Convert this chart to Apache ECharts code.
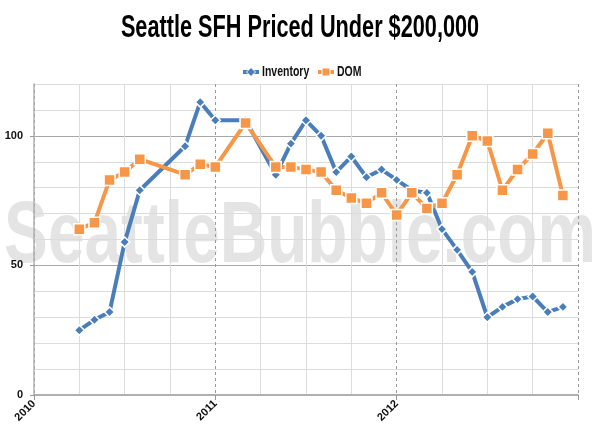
<!DOCTYPE html>
<html>
<head>
<meta charset="utf-8">
<script src="https://cdn.jsdelivr.net/npm/echarts@6/dist/echarts.min.js"></script>
<style>html,body{margin:0;padding:0;background:#fff}#c{width:600px;height:436px}</style>
</head>
<body>
<div id="c"></div>
<script>
var FONT = '"Liberation Sans",Arial,sans-serif';
var titleText = 'Seattle SFH Priced Under $200,000';
var watermarkText = 'SeattleBubble.com';
var seriesNames = ['Inventory','DOM'];
var dates = ['2010-04','2010-05','2010-06','2010-07','2010-08','2010-11','2010-12','2011-01','2011-03','2011-05','2011-06','2011-07','2011-08','2011-09','2011-10','2011-11','2011-12','2012-01','2012-02','2012-03','2012-04','2012-05','2012-06','2012-07','2012-08','2012-09','2012-10','2012-11','2012-12'];
var inventory = [25,29,32,59,79,96,113,106,106,85,97,106,100,86,92,84,87,83,79,78,64,56,47.5,30,34,37,38,32,34];
var dom = [64,66.5,83,86,91,85,89,88,105,88,88,87,86,79,76,74,78,69.5,78,72,74,85,100,98,79,87,93,101,77];
var yearLabels = ['2010','2011','2012'];
var yTicks = [0,50,100];
var BLUE = '#4a7ebb', ORANGE = '#f79646';

function monthIndex(d){var p=d.split('-');return (parseInt(p[0],10)-2010)*12+parseInt(p[1],10)-1;}
var invData = dates.map(function(d,i){return [monthIndex(d), inventory[i]];});
var domData = dates.map(function(d,i){return [monthIndex(d), dom[i]];});

function legendItem(x, color, symbol, name){
  var items = [
    {type:'line',shape:{x1:x,y1:72,x2:x+16,y2:72},style:{stroke:color,lineWidth:4}},
  ];
  if(symbol==='diamond'){
    items.push({type:'polygon',shape:{points:[[x+8,67.5],[x+12.5,72],[x+8,76.5],[x+3.5,72]]},style:{fill:color,stroke:'#fff',lineWidth:1}});
  } else {
    items.push({type:'rect',shape:{x:x+4,y:68,width:8,height:8},style:{fill:color,stroke:'#fff',lineWidth:1}});
  }
  items.push({type:'text',x:x+19,y:72,scaleX:0.7,style:{text:name,font:'bold 15px '+FONT,fill:'#111',textAlign:'left',textVerticalAlign:'middle'}});
  return items;
}

var graphics = [
  {type:'text',x:300,y:28,scaleX:0.7,z:10,style:{text:titleText,font:'bold 31px '+FONT,fill:'#000',textAlign:'center',textVerticalAlign:'middle'}},
  {type:'text',x:300,y:238,scaleX:0.747,z:-10,silent:true,style:{text:watermarkText,font:'bold 88px '+FONT,fill:'#e4e4e4',textAlign:'center',textVerticalAlign:'middle'}}
].concat(legendItem(243,BLUE,'diamond',seriesNames[0])).concat(legendItem(318,ORANGE,'rect',seriesNames[1]));

var chart = echarts.init(document.getElementById('c'));
chart.setOption({
  animation:false,
  graphic:graphics,
  grid:{left:34,right:22,top:84,bottom:41},
  xAxis:[
    {type:'value',min:0,max:36,interval:3,position:'bottom',
     axisLine:{show:false},axisTick:{show:false},axisLabel:{show:false},
     splitLine:{show:true,lineStyle:{color:['rgba(0,0,0,0)','#dcdcdc','#dcdcdc','#dcdcdc'],width:1}}},
    {type:'value',min:0,max:36,interval:12,position:'bottom',
     axisLine:{show:true,lineStyle:{color:'#b0b0b0',width:2}},
     axisTick:{show:true,length:5,lineStyle:{color:'#999'}},
     axisLabel:{show:true,rotate:45,margin:7,fontFamily:FONT,fontSize:11,fontWeight:'bold',color:'#111',
       formatter:function(v){var k=Math.round(v/12);return yearLabels[k]||'';}},
     splitLine:{show:true,lineStyle:{color:'#999',type:[3,3],width:1}}}
  ],
  yAxis:[
    {type:'value',min:0,max:120,interval:10,
     axisLine:{show:false},axisTick:{show:false},axisLabel:{show:false},
     splitLine:{show:true,lineStyle:{color:['#a8a8a8','#dcdcdc','#dcdcdc','#dcdcdc','#dcdcdc'],width:1}}},
    {type:'value',min:0,max:120,interval:50,position:'left',
     axisLine:{show:true,lineStyle:{color:'#b0b0b0',width:1.5}},
     axisTick:{show:true,length:4,lineStyle:{color:'#999'}},
     axisLabel:{show:true,showMaxLabel:false,margin:11,fontFamily:FONT,fontSize:11,fontWeight:'bold',color:'#111',
       formatter:function(v){return yTicks.indexOf(v)>=0?String(v):'';}},
     splitLine:{show:false}}
  ],
  series:[
    {name:seriesNames[0],type:'line',xAxisIndex:0,yAxisIndex:0,data:invData,
     symbol:'diamond',symbolSize:10,
     lineStyle:{color:BLUE,width:4},
     itemStyle:{color:BLUE,borderColor:'#fff',borderWidth:1.5}},
    {name:seriesNames[1],type:'line',xAxisIndex:0,yAxisIndex:0,data:domData,
     symbol:'rect',symbolSize:11,
     lineStyle:{color:ORANGE,width:4},
     itemStyle:{color:ORANGE,borderColor:'#fff',borderWidth:1.5}}
  ]
});
</script>
</body>
</html>
